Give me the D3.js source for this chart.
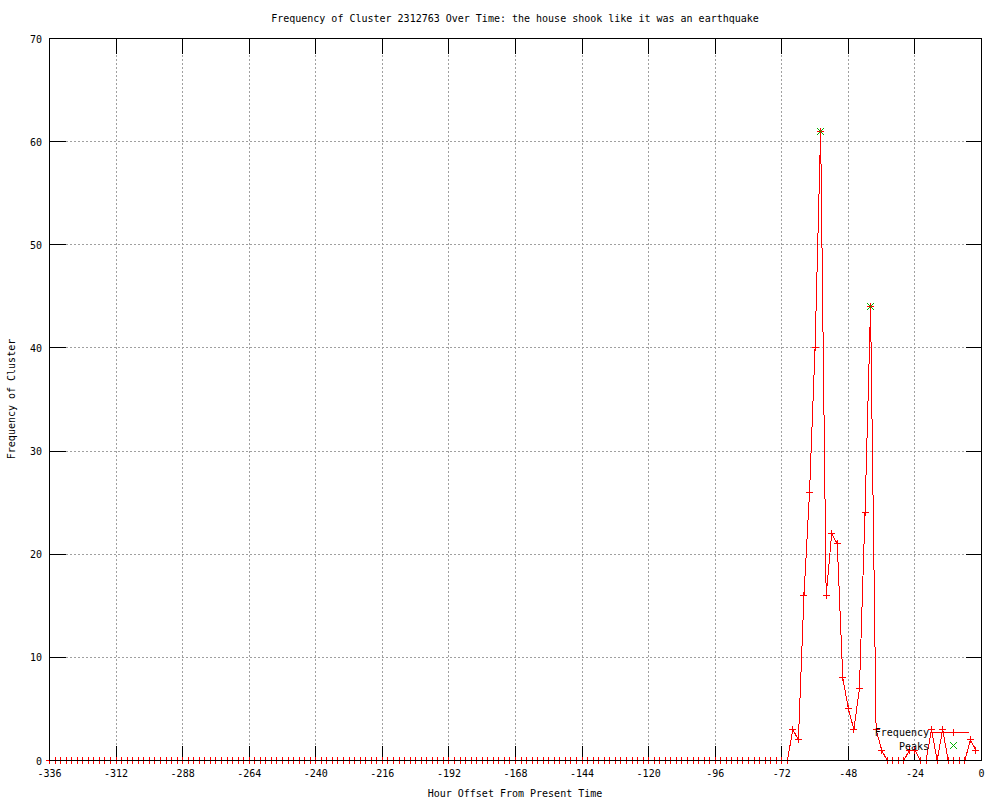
<!DOCTYPE html>
<html>
<head>
<meta charset="utf-8">
<script src="https://cdn.jsdelivr.net/npm/d3@7"></script>
<style>
  html, body { margin: 0; padding: 0; background: #fff; }
  svg { display: block; }
  text { font-family: "DejaVu Sans Mono", "Liberation Mono", monospace; font-size: 10px; fill: #000; }
</style>
</head>
<body>
<svg id="chart" width="1000" height="800"></svg>
<script>
// ---- data ----
const titleText = "Frequency of Cluster 2312763 Over Time: the house shook like it was an earthquake";
const xLabel = "Hour Offset From Present Time";
const yLabel = "Frequency of Cluster";

// hour offsets of each sample (every 2 hours, -336 .. -2)
const hours = [
  -336,-334,-332,-330,-328,-326,-324,-322,-320,-318,-316,-314,-312,-310,-308,-306,-304,-302,-300,-298,
  -296,-294,-292,-290,-288,-286,-284,-282,-280,-278,-276,-274,-272,-270,-268,-266,-264,-262,-260,-258,
  -256,-254,-252,-250,-248,-246,-244,-242,-240,-238,-236,-234,-232,-230,-228,-226,-224,-222,-220,-218,
  -216,-214,-212,-210,-208,-206,-204,-202,-200,-198,-196,-194,-192,-190,-188,-186,-184,-182,-180,-178,
  -176,-174,-172,-170,-168,-166,-164,-162,-160,-158,-156,-154,-152,-150,-148,-146,-144,-142,-140,-138,
  -136,-134,-132,-130,-128,-126,-124,-122,-120,-118,-116,-114,-112,-110,-108,-106,-104,-102,-100,-98,
  -96,-94,-92,-90,-88,-86,-84,-82,-80,-78,-76,-74,-72,-70,
  -68,-66,-64,-62,-60,-58,-56,-54,-52,-50,-48,-46,-44,-42,-40,-38,-36,-34,-32,-30,
  -28,-26,-24,-22,-20,-18,-16,-14,-12,-10,-8,-6,-4,-2
];
const frequency = [
  0,0,0,0,0,0,0,0,0,0,0,0,0,0,0,0,0,0,0,0,
  0,0,0,0,0,0,0,0,0,0,0,0,0,0,0,0,0,0,0,0,
  0,0,0,0,0,0,0,0,0,0,0,0,0,0,0,0,0,0,0,0,
  0,0,0,0,0,0,0,0,0,0,0,0,0,0,0,0,0,0,0,0,
  0,0,0,0,0,0,0,0,0,0,0,0,0,0,0,0,0,0,0,0,
  0,0,0,0,0,0,0,0,0,0,0,0,0,0,0,0,0,0,0,0,
  0,0,0,0,0,0,0,0,0,0,0,0,0,0,
  3,2,16,26,40,61,16,22,21,8,5,3,7,24,44,3,1,0,0,0,
  0,1,1,0,0,3,0,3,0,0,0,0,2,1
];
const peakHours = [-58, -40];
const peakValues = [61, 44];

const xTicks = [-336,-312,-288,-264,-240,-216,-192,-168,-144,-120,-96,-72,-48,-24,0];
const yTicks = [0,10,20,30,40,50,60,70];

const seriesNames = ["Frequency", "Peaks"];
const seriesColors = ["#ff0000", "#00b000"];

// ---- layout ----
const pL = 49.5, pR = 981.5, pT = 38.5, pB = 760.5;
const svg = d3.select("#chart");
svg.append("rect").attr("width", 1000).attr("height", 800).attr("fill", "#fff");

const x = d3.scaleLinear().domain([-336, 0]).range([pL, pR]);
const y = d3.scaleLinear().domain([0, 70]).range([pB, pT]);
const snap = v => Math.round(v - 0.5) + 0.5;

const g = svg.append("g").attr("shape-rendering", "crispEdges");

// grid
g.append("g").selectAll("line").data(xTicks.filter(t => t !== -336 && t !== 0)).join("line")
  .attr("x1", d => snap(x(d))).attr("x2", d => snap(x(d)))
  .attr("y1", pT).attr("y2", pB)
  .attr("stroke", "#a0a0a0").attr("stroke-dasharray", "2,2");
g.append("g").selectAll("line").data(yTicks.filter(t => t !== 0 && t !== 70)).join("line")
  .attr("y1", d => snap(y(d))).attr("y2", d => snap(y(d)))
  .attr("x1", pL).attr("x2", pR)
  .attr("stroke", "#a0a0a0").attr("stroke-dasharray", "2,2");

// tick marks (inward, all four sides)
const xtl = 15, ytl = 16;
const tk = g.append("g").attr("stroke", "#000");
xTicks.forEach(t => {
  const xx = snap(x(t));
  tk.append("line").attr("x1", xx).attr("x2", xx).attr("y1", pB).attr("y2", pB - xtl);
  tk.append("line").attr("x1", xx).attr("x2", xx).attr("y1", pT).attr("y2", pT + xtl);
});
yTicks.forEach(t => {
  const yy = snap(y(t));
  tk.append("line").attr("y1", yy).attr("y2", yy).attr("x1", pL).attr("x2", pL + ytl);
  tk.append("line").attr("y1", yy).attr("y2", yy).attr("x1", pR).attr("x2", pR - ytl);
});

// tick labels
svg.append("g").selectAll("text").data(xTicks).join("text")
  .attr("x", d => x(d)).attr("y", 777).attr("text-anchor", "middle").text(d => d);
svg.append("g").selectAll("text").data(yTicks).join("text")
  .attr("x", 42).attr("y", d => y(d) + 4).attr("text-anchor", "end").text(d => d);

// data line
const pts = hours.map((h, i) => [h, frequency[i]]);
const line = d3.line().x(d => x(d[0])).y(d => y(d[1]));
g.append("path").datum(pts).attr("d", line)
  .attr("fill", "none").attr("stroke", seriesColors[0]).attr("stroke-width", 1);

const plusPath = (cx, cy, r) => `M${cx - r},${cy}H${cx + r}M${cx},${cy - r}V${cy + r}`;
const crossPath = (cx, cy, r) => `M${cx - r},${cy - r}L${cx + r},${cy + r}M${cx - r},${cy + r}L${cx + r},${cy - r}`;

g.append("g").selectAll("path").data(pts).join("path")
  .attr("d", d => plusPath(snap(x(d[0])), snap(y(d[1])), 3.5))
  .attr("stroke", seriesColors[0]).attr("fill", "none");

// border (drawn over the zero-line)
g.append("rect").attr("x", pL).attr("y", pT).attr("width", pR - pL).attr("height", pB - pT)
  .attr("fill", "none").attr("stroke", "#000");

// peaks
const peakPts = peakHours.map((h, i) => [h, peakValues[i]]);
svg.append("g").selectAll("path").data(peakPts).join("path")
  .attr("d", d => crossPath(snap(x(d[0])), snap(y(d[1])), 3.5))
  .attr("stroke", seriesColors[1]).attr("fill", "none");

// legend
const leg = svg.append("g");
leg.append("text").attr("x", 929).attr("y", 736).attr("text-anchor", "end").text(seriesNames[0]);
leg.append("text").attr("x", 929).attr("y", 749.5).attr("text-anchor", "end").text(seriesNames[1]);
leg.append("line").attr("x1", 930).attr("x2", 969).attr("y1", 732.5).attr("y2", 732.5)
  .attr("stroke", seriesColors[0]).attr("shape-rendering", "crispEdges");
leg.append("path").attr("d", plusPath(953.5, 732.5, 3.5)).attr("stroke", seriesColors[0])
  .attr("shape-rendering", "crispEdges");
leg.append("path").attr("d", crossPath(953.5, 745.5, 3.5)).attr("stroke", seriesColors[1]).attr("fill", "none");

// titles
svg.append("text").attr("x", 515).attr("y", 22).attr("text-anchor", "middle").text(titleText);
svg.append("text").attr("x", 515).attr("y", 797).attr("text-anchor", "middle").text(xLabel);
svg.append("text").attr("transform", "translate(15,399) rotate(-90)").attr("text-anchor", "middle").text(yLabel);
</script>
</body>
</html>
